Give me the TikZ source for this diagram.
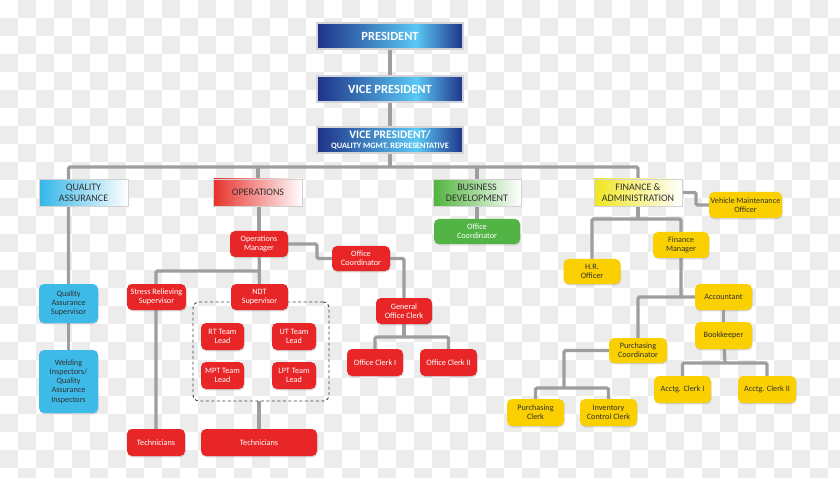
\documentclass[tikz,border=0pt]{standalone}
\usepackage{fontspec}
\setmainfont{Carlito}
\usetikzlibrary{shadows,calc}
\pgfdeclarelayer{bg}
\pgfdeclarelayer{lines}
\pgfsetlayers{bg,lines,main}
\definecolor{navy}{RGB}{30,50,135}
\definecolor{skyl}{RGB}{90,200,245}
\definecolor{checker}{RGB}{236,236,236}
\definecolor{lineg}{RGB}{158,158,160}
\definecolor{dtext}{RGB}{50,50,50}
\definecolor{boxred}{RGB}{232,38,40}
\definecolor{boxblue}{RGB}{62,186,232}
\definecolor{boxylw}{RGB}{250,208,0}
\definecolor{boxgrn}{RGB}{82,180,68}
\definecolor{dred}{RGB}{232,50,44}
\definecolor{dblue}{RGB}{50,182,232}
\definecolor{dgrn}{RGB}{80,180,60}
\definecolor{dylw}{RGB}{240,230,30}
\pgfdeclarehorizontalshading{topshade}{100bp}{color(0bp)=(navy); color(25bp)=(navy); color(59bp)=(skyl); color(75bp)=(navy); color(100bp)=(navy)}
\tikzset{
  topbox/.style={draw={rgb,255:red,210;green,212;blue,218}, line width=1.2pt, shading=topshade,
    minimum width=146pt, minimum height=26pt, text=white, inner sep=0pt, align=center,
    font=\bfseries\fontsize{12.5}{13}\selectfont,
    drop shadow={shadow xshift=0.6pt,shadow yshift=-1pt,opacity=0.25}},
  dept/.style={draw=gray!35, line width=0.9pt, minimum width=89pt, minimum height=27pt,
    text=dtext, inner sep=0pt, align=center, font=\fontsize{10}{11}\selectfont, right color=white,
    drop shadow={shadow xshift=0.6pt,shadow yshift=-1pt,opacity=0.2}},
  subbox/.style={rounded corners=5pt, minimum width=57pt, minimum height=26pt, inner sep=1pt,
    align=center, font=\fontsize{8.2}{9.3}\selectfont,
    drop shadow={shadow xshift=0.5pt,shadow yshift=-1.3pt,opacity=0.3}},
  redbox/.style={subbox, fill=boxred, text=white},
  bluebox/.style={subbox, fill=boxblue, text=dtext},
  ylwbox/.style={subbox, fill=boxylw, text=dtext},
  grnbox/.style={subbox, fill=boxgrn, text=white},
  conn/.style={draw=lineg, line width=3.2pt, rounded corners=1.5pt},
  grpbox/.style={draw={rgb,255:red,70;green,70;blue,70}, line width=0.9pt, dash pattern=on 3pt off 2.5pt,
    rounded corners=6pt, minimum width=136pt, minimum height=99pt, inner sep=0pt}
}
\begin{document}
\begin{tikzpicture}[x=1pt,y=-1pt]
\useasboundingbox (0,0) rectangle (840,478);
\begin{pgfonlayer}{bg}
  \begin{scope}
  \clip (0,0) rectangle (840,478);
  \fill[white] (0,0) rectangle (840,478);
  \foreach \i in {0,...,46}{
    \pgfmathtruncatemacro\off{mod(\i,2)}
    \foreach \j in {0,2,...,26}{
      \fill[checker] ({\i*18},{(\j+1-\off)*18}) rectangle ++(18,18);
    }
  }
  \end{scope}
\end{pgfonlayer}

% top
\node[topbox] (pres) at (390,36) {PRESIDENT};
\node[topbox] (vp) at (390,89) {VICE PRESIDENT};
\node[topbox, font=\bfseries\fontsize{11.5}{10}\selectfont] (vpq) at (390,140) {VICE PRESIDENT/\\{\fontsize{8.3}{8}\selectfont QUALITY MGMT. REPRESENTATIVE}};

% departments
\node[dept, left color=dblue] (qa) at (83.5,193) {QUALITY\\ASSURANCE};
\node[dept, left color=dred] (ops) at (258,192.5) {OPERATIONS};
\node[dept, left color=dgrn, minimum width=88pt] (bd) at (477,193) {BUSINESS\\DEVELOPMENT};
\node[dept, left color=dylw, minimum width=88pt] (fa) at (638,192.5) {FINANCE \&\\ADMINISTRATION};

% QA
\node[bluebox, minimum width=59pt, minimum height=39pt] (qas) at (68.5,303.5) {Quality\\Assurance\\Supervisor};
\node[bluebox, minimum width=59pt, minimum height=63pt] (wi) at (68.5,381.5) {Welding\\Inspectors/\\Quality\\Assurance\\Inspectors};

% Operations
\node[grpbox] (grp) at (261,351.5) {};
\node[redbox, minimum width=58pt] (om) at (259,244) {Operations\\Manager};
\node[redbox, minimum width=58pt, minimum height=25pt] (oc) at (361,258.5) {Office\\Coordinator};
\node[redbox, minimum width=59pt] (srs) at (156.5,297) {Stress Relieving\\Supervisor};
\node[redbox] (ndt) at (259.5,297) {NDT\\Supervisor};
\node[redbox, minimum width=43pt, minimum height=27pt] (rt) at (222.5,336.5) {RT Team\\Lead};
\node[redbox, minimum width=44pt, minimum height=27pt] (ut) at (294,336.5) {UT Team\\Lead};
\node[redbox, minimum width=43pt, minimum height=27pt] (mpt) at (222.5,375.5) {MPT Team\\Lead};
\node[redbox, minimum width=44pt, minimum height=27pt] (lpt) at (294,375.5) {LPT Team\\Lead};
\node[redbox, minimum width=56pt] (goc) at (404,311) {General\\Office Clerk};
\node[redbox, minimum width=56pt, minimum height=27pt] (oca) at (375,362.5) {Office Clerk I};
\node[redbox, minimum width=57pt, minimum height=27pt] (ocb) at (448.5,362.5) {Office Clerk II};
\node[redbox, minimum width=58pt, minimum height=27pt] (tcha) at (156,442.5) {Technicians};
\node[redbox, minimum width=116pt, minimum height=27pt] (tchb) at (259,442.5) {Technicians};

% Business development
\node[grnbox, minimum width=86pt, minimum height=25pt] (bdoc) at (477,231.5) {Office\\Coordinator};

% Finance
\node[ylwbox, minimum width=73pt, inner sep=0pt] (vmo) at (745.5,205) {Vehicle Maintenance\\Officer};
\node[ylwbox, minimum height=25pt] (hr) at (592,271.5) {H.R.\\Officer};
\node[ylwbox, minimum width=56pt] (fm) at (681,245) {Finance\\Manager};
\node[ylwbox] (acc) at (723.5,297) {Accountant};
\node[ylwbox, minimum height=27pt] (bk) at (723.5,335.5) {Bookkeeper};
\node[ylwbox, minimum width=58pt, minimum height=25pt] (pc) at (638,350.5) {Purchasing\\Coordinator};
\node[ylwbox, minimum height=27pt] (aca) at (682.5,389.5) {Acctg. Clerk I};
\node[ylwbox, minimum width=58pt, minimum height=27pt] (acb) at (767,389.5) {Acctg. Clerk II};
\node[ylwbox, minimum height=27pt] (pcl) at (535.5,412.5) {Purchasing\\Clerk};
\node[ylwbox, minimum height=27pt] (icc) at (608.5,412.5) {Inventory\\Control Clerk};

% joints
\coordinate (busR) at (638,167);
\coordinate (omjog) at (317,251);
\coordinate (omj) at (259,271);
\coordinate (gocj) at (404,337);
\coordinate (fajog) at (696,200);
\coordinate (faj) at (638,219);
\coordinate (bkj) at (725,363);
\coordinate (pcj) at (564,388);

\begin{pgfonlayer}{lines}
  \draw[conn] (pres) -- (vp);
  \draw[conn] (vp) -- (vpq);
  \draw[conn] (vpq) -- (vpq |- busR);
  \draw[conn] (qas.north) |- (busR) -- (fa.north);
  \draw[conn] (ops) -- (ops |- busR);
  \draw[conn] (bd) -- (bd |- busR);
  \draw[conn] (bd) -- (bdoc);
  \draw[conn] (qas) -- (wi);
  % operations
  \draw[conn] (om) -- (om |- ops.south);
  \draw[conn] (om) -- (ndt);
  \draw[conn] (om.east) -| (omjog) |- (oc.west);
  \draw[conn] (oc.east) -| (goc.north);
  \draw[conn] (goc) -- (gocj);
  \draw[conn] (oca.north) |- (gocj) -| (ocb.north);
  \draw[conn] (omj) -| (tcha.north);
  \draw[conn] (tchb.north) -- (tchb.north |- grp.south);
  % finance
  \draw[conn] (fa.east) -| (fajog) |- (vmo.west);
  \draw[conn] (fa) -- (faj);
  \draw[conn] (hr.north) |- (faj) -| (fm.north);
  \draw[conn] (fm) -- (fm |- acc) -- (acc.west);
  \draw[conn] (fm |- acc) -| (pc.north);
  \draw[conn] (acc) -- (bk);
  \draw[conn] (bk) -- (bkj);
  \draw[conn] (aca.north) |- (bkj) -| (acb.north);
  \draw[conn] (pc.west) -| (pcj);
  \draw[conn] (pcl.north) |- (pcj) -| (icc.north);
\end{pgfonlayer}
\end{tikzpicture}
\end{document}
